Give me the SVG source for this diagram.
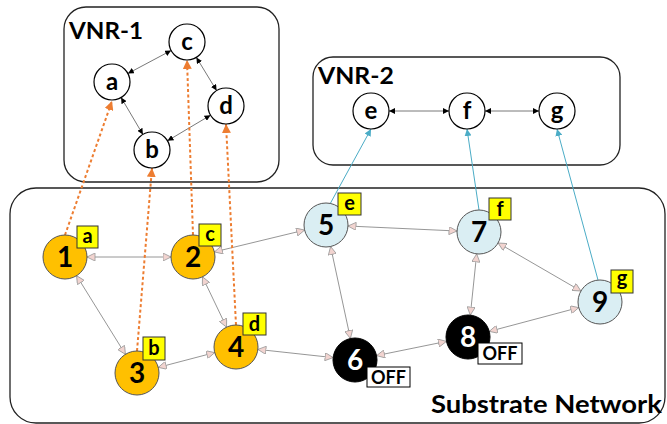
<svg xmlns="http://www.w3.org/2000/svg" width="667" height="424" viewBox="0 0 667 424">
<style>
text{font-family:Lato,"Liberation Sans",sans-serif;font-weight:bold;}
.box{fill:#fff;stroke:#222;stroke-width:1.3;}
.title{font-size:23px;fill:#000;}
.vn{fill:#fff;stroke:#000;stroke-width:1.2;}
.vt{font-size:24px;text-anchor:middle;fill:#000;}
.on{fill:#FFC000;stroke:#555;stroke-width:1;}
.lb{fill:#DAEEF3;stroke:#555;stroke-width:1;}
.off{fill:#000;stroke:#000;}
.nt{font-size:28px;text-anchor:middle;fill:#000;}
.nw{font-size:28px;text-anchor:middle;fill:#fff;}
.tag{fill:#FFFF00;stroke:#333;stroke-width:1;}
.tt{font-size:20px;text-anchor:middle;fill:#000;}
.ob{fill:#fff;stroke:#000;stroke-width:1;}
.ot{font-size:18px;text-anchor:middle;fill:#000;}
.se{stroke:#8a8a8a;stroke-width:0.9;fill:none;marker-start:url(#pa);marker-end:url(#pa);}
.ve{stroke:#555;stroke-width:0.8;fill:none;marker-start:url(#ba);marker-end:url(#ba);}
.om{stroke:#ED7D31;stroke-width:2;stroke-dasharray:3 2.5;fill:none;marker-end:url(#oa);}
.bm{stroke:#4BACC6;stroke-width:1;fill:none;marker-end:url(#ca);}
</style>
<defs>
<marker id="pa" viewBox="0 0 10 10" refX="10" refY="5" markerWidth="9" markerHeight="8" markerUnits="userSpaceOnUse" orient="auto-start-reverse"><path d="M0,0 L10,5 L0,10 Z" fill="#F2D4D0" stroke="#999" stroke-width="1"/></marker>
<marker id="ba" viewBox="0 0 10 10" refX="10" refY="5" markerWidth="6" markerHeight="6" markerUnits="userSpaceOnUse" orient="auto-start-reverse"><path d="M0,0 L10,5 L0,10 Z" fill="#000"/></marker>
<marker id="oa" viewBox="0 0 10 10" refX="10" refY="5" markerWidth="9" markerHeight="9" markerUnits="userSpaceOnUse" orient="auto"><path d="M0,0 L10,5 L0,10 Z" fill="#ED7D31"/></marker>
<marker id="ca" viewBox="0 0 10 10" refX="10" refY="5" markerWidth="7" markerHeight="7" markerUnits="userSpaceOnUse" orient="auto"><path d="M0,0 L10,5 L0,10 Z" fill="#4BACC6"/></marker>
</defs>

<g id="vnr1-box"><rect class="box" x="64" y="7" width="215" height="175" rx="22"/><text class="title" x="69" y="39" textLength="74" lengthAdjust="spacingAndGlyphs">VNR-1</text></g>
<g id="vnr2-box"><rect class="box" x="313" y="57" width="307" height="108" rx="20"/><text class="title" x="318" y="84" textLength="76" lengthAdjust="spacingAndGlyphs">VNR-2</text></g>
<g id="substrate-box"><rect class="box" x="10" y="188" width="655" height="235" rx="26"/><text class="title" x="431" y="413" style="font-size:25px" textLength="231" lengthAdjust="spacingAndGlyphs">Substrate Network</text></g>

<g id="connectors">
<line class="ve" x1="127.9" y1="73.5" x2="171.1" y2="50.5"/>
<line class="ve" x1="196.4" y1="57.4" x2="216.6" y2="90.6"/>
<line class="ve" x1="210.5" y1="115.2" x2="167.5" y2="140.8"/>
<line class="ve" x1="121.1" y1="97.5" x2="142.9" y2="134.5"/>
<line class="ve" x1="389" y1="111" x2="449" y2="111"/>
<line class="ve" x1="485" y1="111" x2="539" y2="111"/>
<line class="se" x1="87" y1="257" x2="171" y2="257"/>
<line class="se" x1="76.6" y1="275.7" x2="125.4" y2="354.3"/>
<line class="se" x1="214.4" y1="251.9" x2="304.6" y2="230.1"/>
<line class="se" x1="202.5" y1="276.9" x2="226.5" y2="327.1"/>
<line class="se" x1="158.3" y1="367.4" x2="214.7" y2="352.6"/>
<line class="se" x1="257.9" y1="349.4" x2="333.1" y2="357.6"/>
<line class="se" x1="330.6" y1="246.5" x2="350.4" y2="338.5"/>
<line class="se" x1="348" y1="226" x2="457" y2="231"/>
<line class="se" x1="476.7" y1="253.9" x2="470.3" y2="315.1"/>
<line class="se" x1="498.1" y1="243" x2="580.9" y2="291"/>
<line class="se" x1="376.6" y1="355.6" x2="446.4" y2="341.4"/>
<line class="se" x1="489.3" y1="331.4" x2="578.7" y2="307.6"/>
<line class="om" x1="65" y1="235" x2="112" y2="101"/>
<line class="om" x1="137" y1="351" x2="152" y2="168"/>
<line class="om" x1="193" y1="235" x2="187" y2="60"/>
<line class="om" x1="236" y1="325" x2="226" y2="124"/>
<line class="bm" x1="330" y1="204" x2="371" y2="129"/>
<line class="bm" x1="479" y1="210" x2="467" y2="129"/>
<line class="bm" x1="598" y1="280" x2="557" y2="129"/>
</g>

<g id="a"><circle class="vn" cx="112" cy="82" r="18"/><text class="vt" x="112" y="90">a</text></g>
<g id="b"><circle class="vn" cx="152" cy="150" r="18"/><text class="vt" x="152" y="158">b</text></g>
<g id="c"><circle class="vn" cx="187" cy="42" r="18"/><text class="vt" x="187" y="50">c</text></g>
<g id="d"><circle class="vn" cx="226" cy="106" r="18"/><text class="vt" x="226" y="114">d</text></g>
<g id="e"><circle class="vn" cx="371" cy="111" r="18"/><text class="vt" x="371" y="119">e</text></g>
<g id="f"><circle class="vn" cx="467" cy="111" r="18"/><text class="vt" x="467" y="119">f</text></g>
<g id="g"><circle class="vn" cx="557" cy="111" r="18"/><text class="vt" x="557" y="119">g</text></g>

<g id="n1"><circle class="on" cx="65" cy="257" r="22"/><text class="nt" x="65" y="267">1</text><rect class="tag" x="77" y="226" width="21" height="22"/><text class="tt" x="87.5" y="243">a</text></g>
<g id="n2"><circle class="on" cx="193" cy="257" r="22"/><text class="nt" x="193" y="267">2</text><rect class="tag" x="199" y="224" width="22" height="22"/><text class="tt" x="210" y="241">c</text></g>
<g id="n3"><circle class="on" cx="137" cy="373" r="22"/><text class="nt" x="137" y="383">3</text><rect class="tag" x="143" y="337" width="22" height="23"/><text class="tt" x="154" y="355">b</text></g>
<g id="n4"><circle class="on" cx="236" cy="347" r="22"/><text class="nt" x="236" y="357">4</text><rect class="tag" x="243" y="313" width="23" height="22"/><text class="tt" x="254.5" y="331">d</text></g>
<g id="n5"><circle class="lb" cx="326" cy="225" r="22"/><text class="nt" x="326" y="235">5</text><rect class="tag" x="338" y="193" width="23" height="22"/><text class="tt" x="349.5" y="210">e</text></g>
<g id="n6"><circle class="off" cx="355" cy="360" r="22"/><text class="nw" x="355" y="370">6</text><rect class="ob" x="367" y="367" width="43" height="20"/><text class="ot" x="388.5" y="384">OFF</text></g>
<g id="n7"><circle class="lb" cx="479" cy="232" r="22"/><text class="nt" x="479" y="242">7</text><rect class="tag" x="489" y="198" width="22" height="22"/><text class="tt" x="500" y="216">f</text></g>
<g id="n8"><circle class="off" cx="468" cy="337" r="22"/><text class="nw" x="468" y="347">8</text><rect class="ob" x="478" y="343" width="44" height="21"/><text class="ot" x="500" y="360">OFF</text></g>
<g id="n9"><circle class="lb" cx="600" cy="302" r="22"/><text class="nt" x="600" y="312">9</text><rect class="tag" x="611" y="270" width="22" height="23"/><text class="tt" x="622" y="285">g</text></g>
</svg>
